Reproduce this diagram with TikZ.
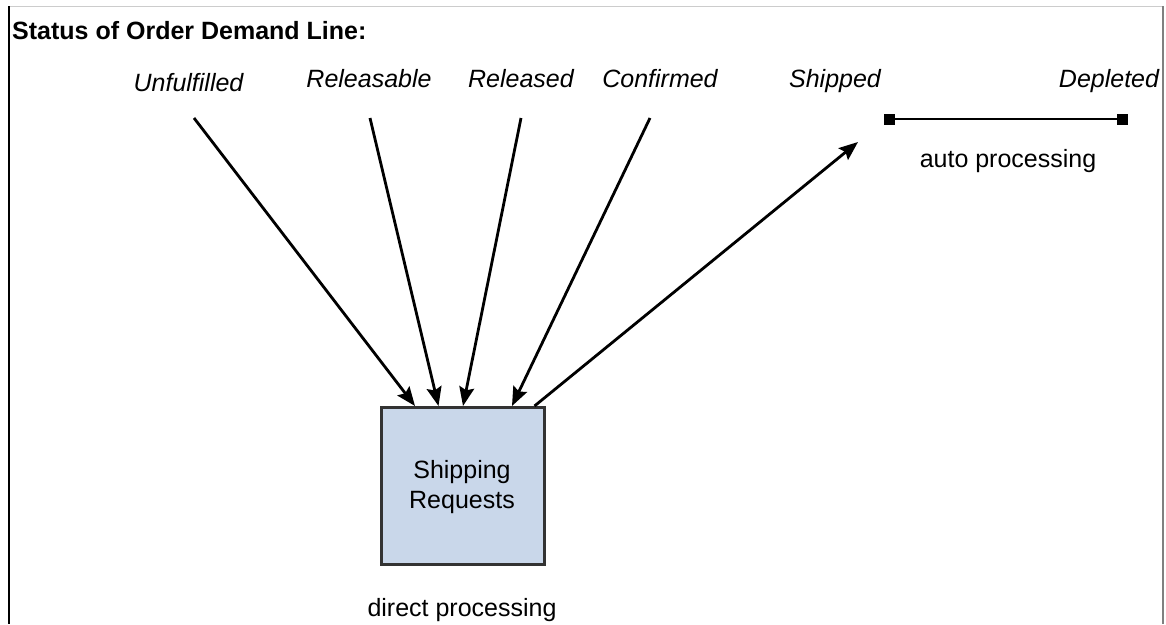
\documentclass[tikz,border=0pt]{standalone}
\usepackage{fontspec}
\setmainfont{Liberation Sans}
\usetikzlibrary{arrows.meta}
\definecolor{boxfill}{HTML}{C9D7EA}
\definecolor{boxdraw}{HTML}{333333}
\begin{document}
\begin{tikzpicture}[x=1pt,y=-1pt,
  lab/.style={font=\fontsize{25}{30}\selectfont\itshape, anchor=base, inner sep=0pt},
  txt/.style={font=\fontsize{25}{30}\selectfont, anchor=base, inner sep=0pt},
  arr/.style={line width=2.8pt, -{Stealth[length=19pt,width=15pt,inset=3pt]}},
  endsq/.style={fill=black, minimum size=11pt, inner sep=0pt},
  ]
\useasboundingbox (0,0) rectangle (1166,624);
% frame
\draw[line width=1pt, color=black!20] (9,6) -- (1163,6);
\draw[line width=2pt, color=black] (9,6) -- (9,624);
\draw[line width=2pt, color=black!50] (1163,6) -- (1163,624);
% title
\node[font=\fontsize{25}{30}\selectfont\bfseries, anchor=base west, inner sep=0pt] (title) at (12,39) {Status of Order Demand Line:};
% status labels
\node[lab] (unf) at (188.5,91) {Unfulfilled};
\node[lab] (rel1) at (369,87) {Releasable};
\node[lab] (rel2) at (521,87) {Released};
\node[lab] (conf) at (660,87) {Confirmed};
\node[lab] (ship) at (835,87) {Shipped};
\node[lab] (depl) at (1109,87) {Depleted};
% arrow start coordinates
\coordinate (su) at (194,118);
\coordinate (sr1) at (370,118);
\coordinate (sr2) at (521,118);
\coordinate (sc) at (650,118);
\coordinate (tip) at (858,142);
% box
\node[draw=boxdraw, fill=boxfill, line width=3pt, minimum width=163pt, minimum height=157pt, inner sep=0pt] (box) at (462.5,486) {};
\node[txt] (t1) at (462,478) {Shipping};
\node[txt] (t2) at (462,508) {Requests};
\node[txt] (direct) at (462,616) {direct processing};
% arrows
\draw[arr] (su) -- ([xshift=-47.5pt]box.north);
\draw[arr] (sr1) -- ([xshift=-24pt]box.north);
\draw[arr] (sr2) -- ([xshift=0.5pt]box.north);
\draw[arr] (sc) -- ([xshift=49.5pt]box.north);
\draw[arr] ([xshift=72pt]box.north) -- (tip);
% auto processing line
\node[endsq] (sqa) at (889,119) {};
\node[endsq] (sqb) at (1122,119) {};
\draw[line width=2.6pt] (sqa.center) -- (sqb.center);
\node[txt] (auto) at (1008,167) {auto processing};
\end{tikzpicture}
\end{document}
